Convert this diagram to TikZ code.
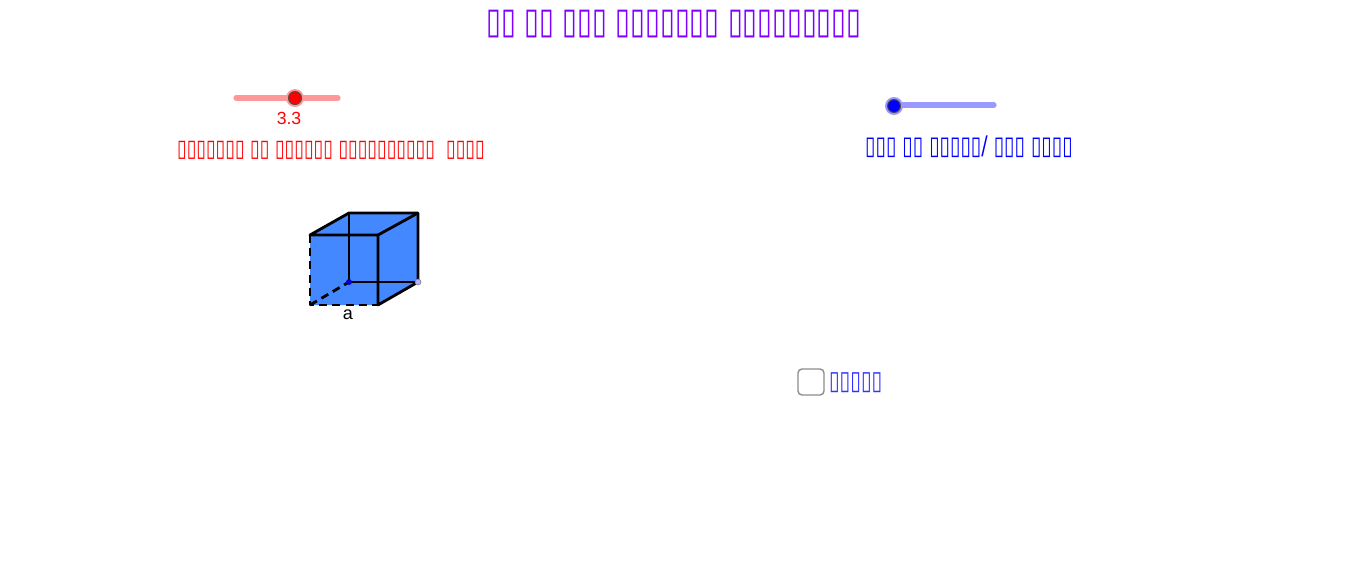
\documentclass[tikz,border=0pt]{standalone}
\usepackage{fontspec}
\setmainfont{Liberation Sans}
\newfontfamily\boxfont[FakeStretch=0.74]{DejaVu Sans}
\definecolor{titlepurple}{HTML}{7F00FF}
\definecolor{cubeblue}{HTML}{4488FF}
\definecolor{checkblue}{HTML}{3030FF}
\tikzset{
  track/.style={line width=2.6pt,line cap=round},
  knob/.style={circle,draw=black!70,line width=0.5pt,inner sep=0pt,minimum size=6.5pt},
  edge/.style={line width=1.4pt,line join=round},
  hidden/.style={edge,dash pattern=on 4pt off 2.6pt},
  label/.style={font=\boxfont\fontsize{#1}{14}\selectfont},
}
\begin{document}
\begin{tikzpicture}[x=0.5pt,y=-0.5pt]
  \useasboundingbox (0,0) rectangle (1350,563);
  %% title
  \node[label=18.2,text=titlepurple] (title) at (674,24)
    {▯▯ ▯▯ ▯▯▯ ▯▯▯▯▯▯▯ ▯▯▯▯▯▯▯▯▯};
  %% slider a
  \draw[track,red!40] (236,98) -- (338,98);
  \fill[red!40] (295,98) circle (9);
  \node[knob,fill=red] (knoba) at (295,98) {};
  \node[text=red,font=\fontsize{8.8}{10}\selectfont] (vala) at (289,118) {3.3};
  \node[label=11.85,text=red] (texta) at (331,150) {▯▯▯▯▯▯▯ ▯▯ ▯▯▯▯▯▯ ▯▯▯▯▯▯▯▯▯▯~ ▯▯▯▯};
  %% slider b
  \draw[track,blue!40] (894,105) -- (994,105);
  \fill[blue!40] (894,106) circle (9);
  \node[knob,fill=blue] (knobb) at (894,106) {};
  \node[label=12.8,text=blue] (textb) at (969,147) {▯▯▯ ▯▯ ▯▯▯▯▯/ ▯▯▯ ▯▯▯▯};
  %% cube
  \coordinate (A) at (310,305);
  \coordinate (B) at (378,305);
  \coordinate (C) at (378,235);
  \coordinate (D) at (310,235);
  \coordinate (E) at (349,282);
  \coordinate (F) at (418,282);
  \coordinate (G) at (418,213);
  \coordinate (H) at (349,213);
  \fill[cubeblue] (A) -- (B) -- (F) -- (G) -- (H) -- (D) -- cycle;
  \draw[edge] (D) -- (C) -- (B) -- (F) -- (G) -- (H) -- cycle;
  \draw[edge] (C) -- (G);
  \draw[edge] (H) -- (E) -- (F);
  \draw[hidden] (D) -- (A) -- (B);
  \draw[hidden] (A) -- (E);
  \fill[blue!80!black] (E) circle (3);
  \filldraw[fill=blue!30,draw=black!50,line width=0.3pt] (F) circle (3);
  \node[font=\fontsize{9}{10}\selectfont] (side) at (348,315) {a};
  %% check box
  \node[draw=black!45,line width=0.7pt,rounded corners=2pt,minimum size=13pt,inner sep=0pt] (check) at (811,382) {};
  \node[label=13.1,text=checkblue,anchor=west] (checktext) at (822,383) {▯▯▯▯▯};
\end{tikzpicture}
\end{document}
